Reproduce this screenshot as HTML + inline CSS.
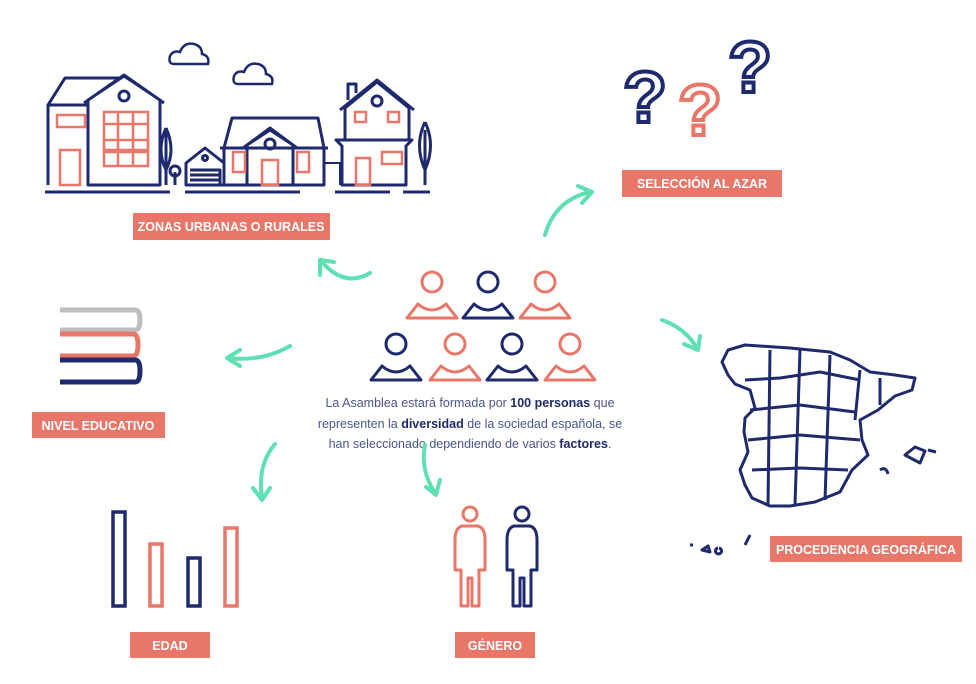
<!DOCTYPE html>
<html><head><meta charset="utf-8"><style>
html,body{margin:0;padding:0;background:#fff;}
svg{display:block;}
.lbl{font-family:"Liberation Sans",sans-serif;font-size:12.5px;fill:#fff;font-weight:bold;}
.t{font-family:"Liberation Sans",sans-serif;font-size:12.5px;fill:#4a5590;}
.b{font-weight:bold;fill:#1f2a6e;}
.q{font-family:"Liberation Sans",sans-serif;font-size:72px;font-weight:bold;fill:none;stroke-width:4;}
</style></head><body>
<svg width="976" height="684" viewBox="0 0 976 684" xmlns="http://www.w3.org/2000/svg">
<rect width="976" height="684" fill="#fff"/>
<defs>
<g id="pers"><circle cx="0" cy="-14" r="10" fill="none" stroke-width="3"/><path d="M-25 22 L-14 8 Q-7 14 0 14 Q7 14 14 8 L25 22 Z" fill="none" stroke-width="3" stroke-linejoin="round"/></g>
</defs>
<!-- clouds -->
<g fill="none" stroke="#1f2a6e" stroke-width="2.5">
<path d="M174 64 Q168 64 170 56 Q173 50 180 52 Q184 42 194 44 Q202 46 202 54 Q210 56 208 64 Z"/>
<path d="M238 84 Q232 84 234 76 Q237 70 244 72 Q248 62 258 64 Q266 66 266 74 Q274 76 272 84 Z"/>
</g>
<!-- houses -->
<g fill="none" stroke="#1f2a6e" stroke-width="3" stroke-linejoin="round">
<path d="M48 185 V105 L65 78 H120 M48 105 H88"/>
<path d="M88 185 V100 L124 76 L160 100 V185 Z M84 103 L124 75 L164 103"/>
<circle cx="124" cy="96" r="5"/>
<path d="M45 192 H170 M185 192 H300 M335 192 H390 M403 192 H430"/>
<path d="M166 185 V130 M166 128 Q156 150 166 170 Q176 150 166 128 M175 185 V172"/>
<circle cx="175" cy="171" r="5"/>
<path d="M186 185 V163 L205 148 L224 163 V185 Z M190 170 H220 V185 M190 175 H220 M190 180 H220"/>
<circle cx="205" cy="158" r="2.5"/>
<path d="M224 185 V148 L232 118 H318 L324 148 V185 Z M220 148 H328"/>
<path d="M247 185 V145 L270 130 L293 145 V185 M243 148 L270 128 L297 148"/>
<circle cx="270" cy="144" r="5"/>
<path d="M324 185 V163 H340 V185" stroke-width="2"/>
<path d="M342 185 V146 L336 140 H412 L406 146 V185 Z M345 140 V108 L377 82 L409 108 V140 M340 110 L377 80 L414 110 M348 100 V84 H356 V93"/>
<circle cx="377" cy="101" r="5"/>
<path d="M425 185 V130 M425 122 Q414 145 425 170 Q436 145 425 122"/>
</g>
<g fill="none" stroke="#e8776a" stroke-width="2.5">
<rect x="57" y="115" width="28" height="12"/><rect x="104" y="112" width="44" height="38"/><rect x="104" y="140" width="44" height="26"/>
<path d="M104 124 H148 M118 112 V166 M133 112 V166 M104 152 H148"/>
<rect x="60" y="150" width="20" height="35"/>
<rect x="233" y="152" width="12" height="20"/><rect x="297" y="152" width="12" height="20"/><rect x="262" y="160" width="16" height="25"/>
<rect x="355" y="112" width="11" height="10"/><rect x="388" y="112" width="11" height="10"/><rect x="382" y="152" width="20" height="12"/><rect x="356" y="158" width="14" height="27"/>
</g>
<!-- labels -->
<rect x="133" y="213" width="197" height="27" fill="#e8776a"/><text x="231" y="231" text-anchor="middle" class="lbl">ZONAS URBANAS O RURALES</text>
<rect x="622" y="170" width="160" height="27" fill="#e8776a"/><text x="702" y="188" text-anchor="middle" class="lbl">SELECCIÓN AL AZAR</text>
<rect x="32" y="412" width="133" height="26" fill="#e8776a"/><text x="98" y="430" text-anchor="middle" class="lbl">NIVEL EDUCATIVO</text>
<rect x="770" y="536" width="192" height="26" fill="#e8776a"/><text x="866" y="554" text-anchor="middle" class="lbl">PROCEDENCIA GEOGRÁFICA</text>
<rect x="130" y="632" width="80" height="26" fill="#e8776a"/><text x="170" y="650" text-anchor="middle" class="lbl">EDAD</text>
<rect x="455" y="632" width="80" height="26" fill="#e8776a"/><text x="495" y="650" text-anchor="middle" class="lbl">GÉNERO</text>
<!-- question marks -->
<text x="645" y="122" class="q" stroke="#1f2a6e" text-anchor="middle">?</text>
<text x="700" y="135" class="q" stroke="#e8776a" text-anchor="middle">?</text>
<text x="750" y="92" class="q" stroke="#1f2a6e" text-anchor="middle">?</text>
<!-- people -->
<use href="#pers" x="432" y="296" stroke="#e8776a"/>
<use href="#pers" x="488" y="296" stroke="#1f2a6e"/>
<use href="#pers" x="545" y="296" stroke="#e8776a"/>
<use href="#pers" x="396" y="358" stroke="#1f2a6e"/>
<use href="#pers" x="455" y="358" stroke="#e8776a"/>
<use href="#pers" x="512" y="358" stroke="#1f2a6e"/>
<use href="#pers" x="570" y="358" stroke="#e8776a"/>
<text x="470" y="407" text-anchor="middle" class="t">La Asamblea estará formada por <tspan class="b">100 personas</tspan> que</text>
<text x="470" y="428" text-anchor="middle" class="t">representen la <tspan class="b">diversidad</tspan> de la sociedad española, se</text>
<text x="470" y="448" text-anchor="middle" class="t">han seleccionado dependiendo de varios <tspan class="b">factores</tspan>.</text>
<!-- arrows -->
<g fill="none" stroke="#5fe0b0" stroke-width="4" stroke-linecap="round" stroke-linejoin="round">
<path d="M370 273 Q345 288 322 262 M320 275 L320 260 L334 262"/>
<path d="M545 235 Q555 200 590 192 M578 186 L592 192 L582 203"/>
<path d="M662 320 Q685 328 697 348 M684 344 L698 350 L700 336"/>
<path d="M290 346 Q262 362 228 358 M240 350 L227 358 L240 366"/>
<path d="M275 444 Q257 465 262 498 M253 488 L262 500 L270 488"/>
<path d="M425 445 Q420 470 435 493 M426 487 L436 495 L440 480"/>
</g>
<!-- books -->
<g fill="none" stroke-width="5">
<path d="M60 310 H135 Q140 310 140 320 Q140 330 135 330 H60" stroke="#bdbdbd"/>
<path d="M60 334 H133 Q138 334 138 345 Q138 356 133 356 H60" stroke="#e8776a"/>
<path d="M60 360 H135 Q140 360 140 371 Q140 382 135 382 H60" stroke="#1f2a6e"/>
</g>
<!-- bars -->
<g fill="none" stroke-width="3.5">
<rect x="113" y="512" width="12" height="94" stroke="#1f2a6e"/>
<rect x="150" y="544" width="12" height="62" stroke="#e8776a"/>
<rect x="188" y="558" width="12" height="48" stroke="#1f2a6e"/>
<rect x="225" y="528" width="12" height="78" stroke="#e8776a"/>
</g>
<!-- gender -->
<g fill="none" stroke-width="3" stroke-linejoin="round">
<g stroke="#e8776a"><circle cx="470" cy="514" r="7"/><path d="M462 526 H478 Q485 528 485 540 V570 H479 V606 H472 V578 H468 V606 H461 V570 H455 V540 Q455 528 462 526 Z"/></g>
<g stroke="#1f2a6e"><circle cx="522" cy="514" r="7"/><path d="M514 526 H530 Q537 528 537 540 V570 H531 V606 H524 V578 H520 V606 H513 V570 H507 V540 Q507 528 514 526 Z"/></g>
</g>
<!-- spain -->
<g fill="none" stroke="#1f2a6e" stroke-width="3" stroke-linejoin="round">
<path d="M722 362 L728 350 L745 345 L790 348 L830 352 L850 360 L870 372 L895 375 L915 378 L912 390 L895 396 L878 410 L860 420 L862 440 L868 455 L852 470 L840 492 L815 502 L790 506 L770 506 L752 498 L745 485 L740 470 L748 452 L744 432 L745 418 L755 408 L750 390 L735 384 L728 375 Z"/>
<path d="M745 380 L780 378 L820 372 L860 380 M750 410 L800 405 L855 412 M748 440 L800 435 L860 440 M752 470 L800 468 L848 470 M770 350 L768 505 M800 350 L795 505 M830 355 L825 500 M860 370 L855 420 M880 378 L880 405"/>
<path d="M880 470 q6 -4 8 4 M905 455 l10 -8 l10 4 l-5 12 z M928 450 l8 2"/>
<path d="M690 545 l3 0 M702 550 l6 -4 l2 6 z M718 548 a3 3 0 1 0 1 0 M745 545 l5 -10"/>
</g>
</svg>
</body></html>
